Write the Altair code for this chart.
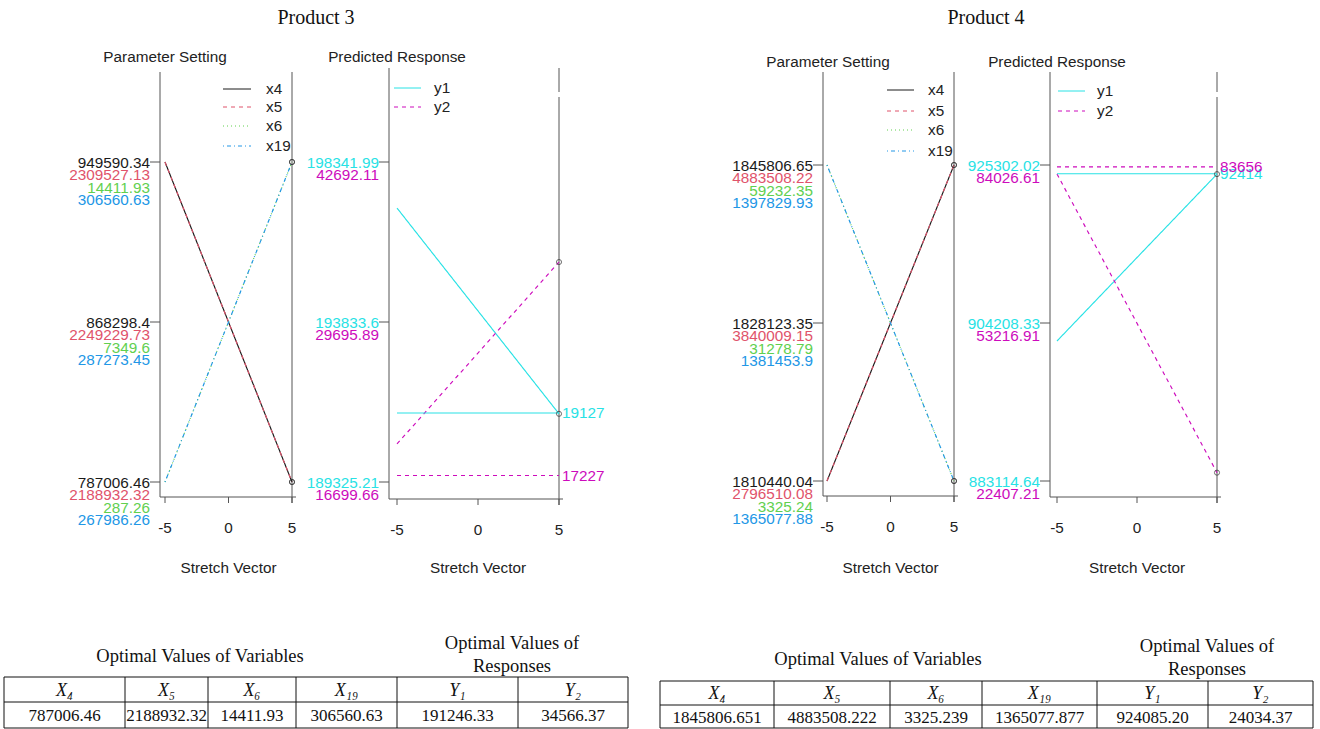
import altair as alt
import pandas as pd

# ---------------- data ----------------
stretch_ticks = [-5, 0, 5]
param_series = ["x4", "x5", "x6", "x19"]
resp_series = ["y1", "y2"]

# Product 3 : parameter setting (tick values low / mid / high) and line end values (at -5, at 5)
p3_x4_ticks = [787006.46, 868298.4, 949590.34]
p3_x5_ticks = [2188932.32, 2249229.73, 2309527.13]
p3_x6_ticks = [287.26, 7349.6, 14411.93]
p3_x19_ticks = [267986.26, 287273.45, 306560.63]
p3_x4_line = [949590.34, 787006.46]
p3_x5_line = [2309527.13, 2188932.32]
p3_x6_line = [287.26, 14411.93]
p3_x19_line = [267986.26, 306560.63]

# Product 3 : predicted response
p3_y1_ticks = [189325.21, 193833.6, 198341.99]
p3_y2_ticks = [16699.66, 29695.89, 42692.11]
p3_y1_line = [197045.0, 191246.33]
p3_y2_line = [19790.0, 34566.37]
p3_y1_ref = 191270.0
p3_y2_ref = 17227.0
p3_ref_labels = ["19127", "17227"]

# Product 4 : parameter setting
p4_x4_ticks = [1810440.04, 1828123.35, 1845806.65]
p4_x5_ticks = [2796510.08, 3840009.15, 4883508.22]
p4_x6_ticks = [3325.24, 31278.79, 59232.35]
p4_x19_ticks = [1365077.88, 1381453.9, 1397829.93]
p4_x4_line = [1810440.04, 1845806.65]
p4_x5_line = [2796510.08, 4883508.22]
p4_x6_line = [59232.35, 3325.24]
p4_x19_line = [1397829.93, 1365077.88]

# Product 4 : predicted response
p4_y1_ticks = [883114.64, 904208.33, 925302.02]
p4_y2_ticks = [22407.21, 53216.91, 84026.61]
p4_y1_line = [901806.0, 924085.20]
p4_y2_line = [82271.0, 24034.37]
p4_y1_ref = 924140.0
p4_y2_ref = 83656.0
p4_ref_labels = ["92414", "83656"]

# optimal-value tables
table_headers = ["X\u2084", "X\u2085", "X\u2086", "X\u2081\u2089", "Y\u2081", "Y\u2082"]
p3_optimal = [787006.46, 2188932.32, 14411.93, 306560.63, 191246.33, 34566.37]
p3_decimals = [2, 2, 2, 2, 2, 2]
p4_optimal = [1845806.651, 4883508.222, 3325.239, 1365077.877, 924085.20, 24034.37]
p4_decimals = [3, 3, 3, 3, 2, 2]

# ---------------- styles / layout ----------------
SANS = "Liberation Sans"
SERIF = "Liberation Serif"
FS = 15.3
AXC = "#555555"
COLORS = {"x4": "#1a1a1a", "x5": "#DF536B", "x6": "#61D04F", "x19": "#2297E6",
          "y1": "#28E2E5", "y2": "#CD0BBC"}
DASH = {"x4": [1, 0], "x5": [4, 4], "x6": [1, 3], "x19": [1, 3, 4, 3],
        "y1": [1, 0], "y2": [4, 4]}
ALL = list(COLORS)

color_enc = alt.Color("series:N", scale=alt.Scale(domain=ALL, range=[COLORS[s] for s in ALL]), legend=None)
dash_enc = alt.StrokeDash("series:N", scale=alt.Scale(domain=ALL, range=[DASH[s] for s in ALL]), legend=None)

LAY = {
    "p1": dict(xm5=165, x5=292, t1=162, t0=482, left=160, right=296, top=72, bottom=497,
               vsegs=[(72, 503)], title=("Parameter Setting", 165, 57),
               leg=dict(x0=223, x1=251, tx=266, ys=[89, 107, 126, 146])),
    "p2": dict(xm5=397, x5=559, t1=162, t0=482, left=389, right=563, top=68, bottom=499,
               vsegs=[(68, 92), (97, 505)], title=("Predicted Response", 397, 57),
               leg=dict(x0=394, x1=421, tx=434, ys=[88, 107])),
    "p3": dict(xm5=827, x5=954, t1=165, t0=481, left=823, right=958, top=72, bottom=496,
               vsegs=[(72, 502)], title=("Parameter Setting", 828, 62),
               leg=dict(x0=887, x1=914, tx=928, ys=[90, 111, 130, 151])),
    "p4": dict(xm5=1057, x5=1217, t1=165, t0=481, left=1050, right=1221, top=72, bottom=497,
               vsegs=[(72, 92), (97, 503)], title=("Predicted Response", 1057, 62),
               leg=dict(x0=1058, x1=1085, tx=1097, ys=[91, 111])),
}


def fmt(v, d=2):
    s = ("%." + str(d) + "f") % v
    return s.rstrip("0").rstrip(".")


def one():
    return pd.DataFrame({"a": [0]})


def pix_text(text, x, y, size=FS, font=SANS, **kw):
    return alt.Chart(pd.DataFrame({"txt": [text]})).mark_text(
        font=font, fontSize=size, baseline="middle", **kw
    ).encode(x=alt.value(x), y=alt.value(y), text="txt:N")


def pix_rule(x, y, x2=None, y2=None, color=AXC, width=1.0, dash=None):
    enc = dict(x=alt.value(x), y=alt.value(y))
    if x2 is not None:
        enc["x2"] = alt.value(x2)
    if y2 is not None:
        enc["y2"] = alt.value(y2)
    kw = dict(color=color, strokeWidth=width)
    if dash is not None:
        kw["strokeDash"] = dash
    return alt.Chart(one()).mark_rule(**kw).encode(**enc)


def panel(lay, series, ticks, lines, refs=None, ref_labels=None):
    xs = alt.Scale(domain=[-5, 5], range=[lay["xm5"], lay["x5"]], nice=False, zero=False)
    ys = alt.Scale(domain=[0, 1], range=[lay["t0"], lay["t1"]], nice=False, zero=False)

    def X(f):
        return alt.X(f, type="quantitative", scale=xs, axis=None)

    def Y(f):
        return alt.Y(f, type="quantitative", scale=ys, axis=None)

    def norm(s, v):
        lo, hi = ticks[s][0], ticks[s][2]
        return (v - lo) / (hi - lo)

    rows = []
    for s in series:
        for xv, v in zip([-5, 5], lines[s]):
            rows.append(dict(series=s, id=s, x=xv, t=norm(s, v)))
    if refs:
        for s in refs:
            for xv in [-5, 5]:
                rows.append(dict(series=s, id=s + "_ref", x=xv, t=norm(s, refs[s])))
    ldf = pd.DataFrame(rows)
    layers = []

    # frame
    layers.append(pix_rule(lay["left"], lay["top"], y2=lay["bottom"]))
    layers.append(pix_rule(lay["left"], lay["bottom"], x2=lay["right"]))
    for (a, b) in lay["vsegs"]:
        layers.append(alt.Chart(pd.DataFrame({"x": [5]})).mark_rule(color=AXC, strokeWidth=1.0).encode(
            x=X("x"), y=alt.value(a), y2=alt.value(b)))
    # x ticks + labels
    xt = pd.DataFrame({"x": stretch_ticks, "lab": [str(v) for v in stretch_ticks]})
    layers.append(alt.Chart(xt).mark_rule(color=AXC, strokeWidth=1.0).encode(
        x=X("x"), y=alt.value(lay["bottom"]), y2=alt.value(lay["bottom"] + 6)))
    layers.append(alt.Chart(xt).mark_text(font=SANS, fontSize=FS, baseline="middle", color="#222").encode(
        x=X("x"), y=alt.value(lay["bottom"] + 31), text="lab:N"))
    # y ticks
    yt = pd.DataFrame({"t": [0, 0.5, 1]})
    layers.append(alt.Chart(yt).mark_rule(color=AXC, strokeWidth=1.0).encode(
        y=Y("t"), x=alt.value(lay["left"] - 10), x2=alt.value(lay["left"])))
    # stacked coloured tick labels
    for k, s in enumerate(series):
        df = pd.DataFrame({"t": [0, 0.5, 1], "lab": [fmt(v) for v in ticks[s]], "series": s})
        layers.append(alt.Chart(df).mark_text(font=SANS, fontSize=FS, align="right", baseline="middle",
                                              dy=1 + 12.3 * k).encode(
            x=alt.value(lay["left"] - 10), y=Y("t"), text="lab:N", color=color_enc))
    # data lines
    layers.append(alt.Chart(ldf).mark_line(strokeWidth=1.15).encode(
        x=X("x"), y=Y("t"), color=color_enc, strokeDash=dash_enc, detail="id:N"))
    # end-point circles
    pdf = ldf[(ldf["x"] == 5) & (ldf["id"] == ldf["series"])]
    layers.append(alt.Chart(pdf).mark_point(shape="circle", filled=False, size=26, color="#333",
                                            strokeWidth=1).encode(x=X("x"), y=Y("t")))
    # reference labels
    if refs:
        rdf = pd.DataFrame({"series": list(refs), "x": 5,
                            "t": [norm(s, refs[s]) for s in refs], "lab": ref_labels})
        layers.append(alt.Chart(rdf).mark_text(font=SANS, fontSize=FS, align="left", baseline="middle",
                                               dx=3).encode(
            x=X("x"), y=Y("t"), text="lab:N", color=color_enc))
    # legend
    lg = lay["leg"]
    for s, yy in zip(series, lg["ys"]):
        layers.append(pix_rule(lg["x0"], yy, x2=lg["x1"], color=COLORS[s], dash=DASH[s]))
        layers.append(pix_text(s, lg["tx"], yy, align="left", color="#222"))
    # titles
    t, tx, ty = lay["title"]
    layers.append(pix_text(t, tx, ty, color="#222"))
    layers.append(pix_text("Stretch Vector", (lay["xm5"] + lay["x5"]) / 2, 568, color="#222"))
    return alt.layer(*layers)


p1 = panel(LAY["p1"], param_series,
           {"x4": p3_x4_ticks, "x5": p3_x5_ticks, "x6": p3_x6_ticks, "x19": p3_x19_ticks},
           {"x4": p3_x4_line, "x5": p3_x5_line, "x6": p3_x6_line, "x19": p3_x19_line})
p2 = panel(LAY["p2"], resp_series,
           {"y1": p3_y1_ticks, "y2": p3_y2_ticks},
           {"y1": p3_y1_line, "y2": p3_y2_line},
           {"y1": p3_y1_ref, "y2": p3_y2_ref}, p3_ref_labels)
p3 = panel(LAY["p3"], param_series,
           {"x4": p4_x4_ticks, "x5": p4_x5_ticks, "x6": p4_x6_ticks, "x19": p4_x19_ticks},
           {"x4": p4_x4_line, "x5": p4_x5_line, "x6": p4_x6_line, "x19": p4_x19_line})
p4 = panel(LAY["p4"], resp_series,
           {"y1": p4_y1_ticks, "y2": p4_y2_ticks},
           {"y1": p4_y1_line, "y2": p4_y2_line},
           {"y1": p4_y1_ref, "y2": p4_y2_ref}, p4_ref_labels)


def table(xedges, yedges, values, decimals, var_title, resp_title):
    layers = []
    for yy in yedges:
        layers.append(pix_rule(xedges[0], yy, x2=xedges[-1], color="#111", width=1))
    for xx in xedges:
        layers.append(pix_rule(xx, yedges[0], y2=yedges[-1], color="#111", width=1))
    for i, (h, v, d) in enumerate(zip(table_headers, values, decimals)):
        cx = (xedges[i] + xedges[i + 1]) / 2
        layers.append(pix_text(h, cx, (yedges[0] + yedges[1]) / 2 + 1, size=18, font=SERIF,
                               fontStyle="italic", color="#111"))
        layers.append(pix_text(("%." + str(d) + "f") % v, cx, (yedges[1] + yedges[2]) / 2 + 1,
                               size=17, font=SERIF, color="#111"))
    vx, vy = var_title
    layers.append(pix_text("Optimal Values of Variables", vx, vy, size=18.5, font=SERIF, color="#111"))
    rx, ry = resp_title
    layers.append(pix_text("Optimal Values of", rx, ry, size=18.5, font=SERIF, color="#111"))
    layers.append(pix_text("Responses", rx, ry + 23, size=18.5, font=SERIF, color="#111"))
    return alt.layer(*layers)


t3 = table([4, 125, 208, 296, 397, 518, 628], [677, 702, 728], p3_optimal, p3_decimals,
           (200, 656), (512, 643))
t4 = table([660, 774, 890, 982, 1097, 1208, 1313], [681, 705, 728], p4_optimal, p4_decimals,
           (878, 659), (1207, 646))

titles = alt.layer(
    pix_text("Product 3", 316, 18, size=20, font=SERIF, color="#111"),
    pix_text("Product 4", 986, 18, size=20, font=SERIF, color="#111"),
)

chart = alt.layer(p1, p2, p3, p4, t3, t4, titles).resolve_scale(
    x="independent", y="independent", color="independent", strokeDash="independent"
).properties(
    width=1320, height=729, padding=0, autosize=alt.AutoSizeParams(type="none"),
    background="white",
).configure_view(stroke=None)

chart.save("out.html", embed_options={"renderer": "svg", "actions": False})
